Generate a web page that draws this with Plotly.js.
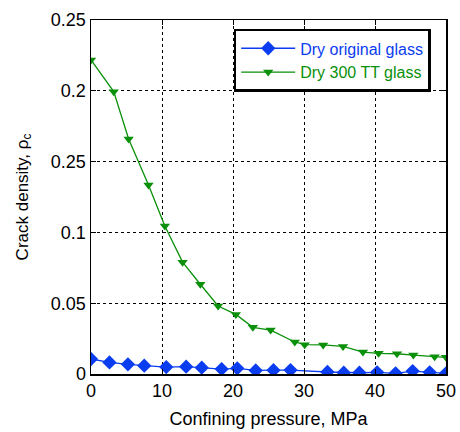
<!DOCTYPE html>
<html><head><meta charset="utf-8">
<script src="https://cdn.plot.ly/plotly-3.0.1.min.js"></script>
<style>body{margin:0;padding:0;background:#fff}#chart{width:460px;height:432px}</style>
</head><body><div id="chart"></div>
<script>
const origX = [0, 2.6, 5.2, 7.5, 10.6, 13.4, 15.6, 18.4, 20.6, 23.2, 25.7, 28.1, 33.3, 35.6, 37.8, 40.3, 42.9, 45.3, 47.7, 50];
const origY = [0.0106, 0.0082, 0.0068, 0.0059, 0.0049, 0.0052, 0.0045, 0.0035, 0.0040, 0.0025, 0.0027, 0.0028, 0.0014, 0.0009, 0.0009, 0.0012, 0.0005, 0.0021, 0.0012, 0.0005];
const ttX = [0, 3.2, 5.3, 8.1, 10.4, 12.9, 15.4, 17.9, 20.4, 22.8, 25.3, 28.7, 30.1, 32.7, 35.5, 38.3, 40.5, 43.1, 45.4, 48.4, 50];
const ttY = [0.2218, 0.1994, 0.1660, 0.1335, 0.1045, 0.0790, 0.0634, 0.0480, 0.0421, 0.0330, 0.0310, 0.0226, 0.0207, 0.0205, 0.0195, 0.0155, 0.0146, 0.0143, 0.0134, 0.0122, 0.0118];
const yTickVals = [0, 0.05, 0.1, 0.15, 0.2, 0.25];
const yTickText = ['0', '0.05', '0.1', '0.25', '0.2', '0.25'];
const xTickVals = [0, 10, 20, 30, 40, 50];

const FONT = '"Liberation Sans", Arial, sans-serif';
const blue = '#0a3cf0', green = '#0a900a';
const traces = [
  {x: origX, y: origY, mode: 'lines+markers', name: '<span style="color:' + blue + '">Dry original glass</span>',
   line: {color: blue, width: 1.3}, marker: {symbol: 'diamond', size: 11, color: blue}},
  {x: ttX, y: ttY, mode: 'lines+markers', name: '<span style="color:' + green + '">Dry 300 TT glass</span>',
   line: {color: green, width: 1.3}, marker: {symbol: 'triangle-down', size: 9, color: green}}
];
const axBase = {showline: true, linecolor: '#000', linewidth: 1.5, mirror: 'ticks', ticks: 'inside', ticklen: 5,
  tickcolor: '#000', showgrid: true, gridcolor: '#000', griddash: 'dot', gridwidth: 1, zeroline: false,
  tickfont: {family: FONT, size: 18, color: '#000'}};
const layout = {
  width: 460, height: 432, margin: {l: 91, r: 14, t: 20, b: 58},
  paper_bgcolor: '#fff', plot_bgcolor: '#fff', showlegend: true,
  font: {family: FONT, color: '#000'},
  xaxis: Object.assign({}, axBase, {range: [0, 50], tickvals: xTickVals,
    title: {text: 'Confining pressure, MPa', font: {size: 18}, standoff: 12}}),
  yaxis: Object.assign({}, axBase, {range: [0, 0.25], tickvals: yTickVals, ticktext: yTickText,
    title: {text: 'Crack density, ρ<sub>c</sub>', font: {size: 17}, standoff: 18}}),
  legend: {x: 0.402, y: 0.975, xanchor: 'left', yanchor: 'top', bgcolor: '#fff', bordercolor: '#000', borderwidth: 2.5,
    font: {family: FONT, size: 16}, tracegroupgap: 0, itemwidth: 54}
};
Plotly.newPlot('chart', traces, layout, {displayModeBar: false, staticPlot: true});
</script></body></html>
